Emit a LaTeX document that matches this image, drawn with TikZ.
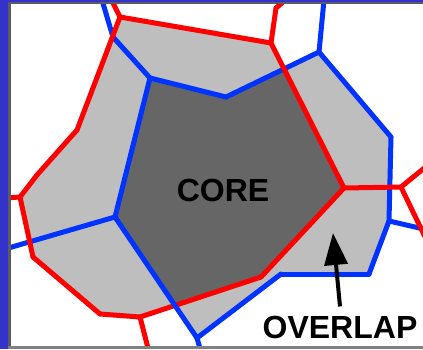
\documentclass[tikz,border=0pt]{standalone}
\usepackage{fontspec}
\setmainfont{Liberation Sans}
\usetikzlibrary{arrows.meta}
\usetikzlibrary{positioning}

\definecolor{cellred}{RGB}{255,0,0}
\definecolor{cellblue}{RGB}{0,51,255}
\definecolor{frameblue}{RGB}{51,51,204}
\definecolor{framegray}{RGB}{90,90,100}
\definecolor{overlapgray}{RGB}{190,190,190}
\definecolor{coregray}{RGB}{102,102,102}

\begin{document}
\begin{tikzpicture}[x=1pt, y=-1pt]
\tikzset{RedEdge/.style = {draw=cellred, line width=5pt, line cap=round, line join=round}}
\tikzset{BlueEdge/.style = {draw=cellblue, line width=5pt, line cap=round, line join=round}}
\tikzset{LabelStyle/.style = {font=\bfseries\fontsize{32}{32}\selectfont, inner sep=0pt, anchor=base}}
\tikzset{Pointer/.style = {-{Triangle[length=32pt, width=23pt]}, line width=4pt}}
	\useasboundingbox (0,0) rectangle (423,349);

	% red cell
	\coordinate (r1) at (120,17);
	\coordinate (r2) at (271,43);
	\coordinate (r3) at (344,188);
	\coordinate (r4) at (261,277);
	\coordinate (r5) at (140,317);
	\coordinate (r6) at (100,314);
	\coordinate (r7) at (33,257);
	\coordinate (r8) at (20,197);
	\coordinate (r9) at (37,175);
	\coordinate (r10) at (77,130);
	\coordinate (q1) at (401,187);
	\coordinate (rs1) at (113,3);
	\coordinate (rs2) at (276,8);
	\coordinate (rs3) at (282,3);
	\coordinate (rs4) at (5,198);
	\coordinate (rs5) at (149,352);
	\coordinate (rs6) at (428,165);
	\coordinate (rs7) at (428,243);

	% blue cell
	\coordinate (b1) at (150,78);
	\coordinate (b2) at (226,97);
	\coordinate (b3) at (319,52);
	\coordinate (b4) at (391,137);
	\coordinate (b5) at (389,221);
	\coordinate (b6) at (369,274);
	\coordinate (b7) at (281,274);
	\coordinate (b8) at (197,338);
	\coordinate (b9) at (115,217);
	\coordinate (bs1) at (113,37);
	\coordinate (bs2) at (102,0);
	\coordinate (bs3) at (324,0);
	\coordinate (bs4) at (428,230);
	\coordinate (bs5) at (5,249);
	\coordinate (bs6) at (201,352);

	\begin{scope}
	\clip (11,4) rectangle (423,346);
	\fill[overlapgray] (r1) -- (r2) -- (r3) -- (r4) -- (r5) -- (r6) -- (r7) -- (r8) -- (r9) -- (r10) -- cycle;
	\fill[overlapgray] (b1) -- (b2) -- (b3) -- (b4) -- (b5) -- (b6) -- (b7) -- (b8) -- (b9) -- cycle;
	\begin{scope}
	\clip (r1) -- (r2) -- (r3) -- (r4) -- (r5) -- (r6) -- (r7) -- (r8) -- (r9) -- (r10) -- cycle;
	\fill[coregray] (b1) -- (b2) -- (b3) -- (b4) -- (b5) -- (b6) -- (b7) -- (b8) -- (b9) -- cycle;
	\end{scope}

	\foreach \a/\b in {b1/b2, b2/b3, b3/b4, b4/b5, b5/b6, b6/b7, b7/b8, b9/b1,
	                   b1/bs1, bs1/bs2, b3/bs3, b5/bs4, b9/bs5, b8/bs6}
	  \draw[BlueEdge] (\a) -- (\b);
	\foreach \a/\b in {r1/r2, r2/r3, r3/r4, r4/r5, r5/r6, r6/r7, r7/r8, r8/r9, r9/r10, r10/r1,
	                   r1/rs1, r2/rs2, rs2/rs3, r8/rs4, r5/rs5, r3/q1, q1/rs6, q1/rs7}
	  \draw[RedEdge] (\a) -- (\b);
	\draw[BlueEdge] (b8) -- (b9);
	\end{scope}

	% frame
	\fill[frameblue] (0,0) rectangle (8,349);
	\fill[frameblue] (0,0) rectangle (423,2);
	\fill[framegray] (8,2) rectangle (11,349);
	\fill[framegray] (8,2) rectangle (423,4);
	\fill[gray] (8,346) rectangle (423,349);

	\node[LabelStyle] (core) at (223,201) {CORE};
	\node[LabelStyle, inner ysep=9pt] (overlap) at (340,338) {OVERLAP};
	\coordinate (tip) at (333,233);
	\draw[Pointer] (overlap.north) -- (tip);

\end{tikzpicture}
\end{document}
